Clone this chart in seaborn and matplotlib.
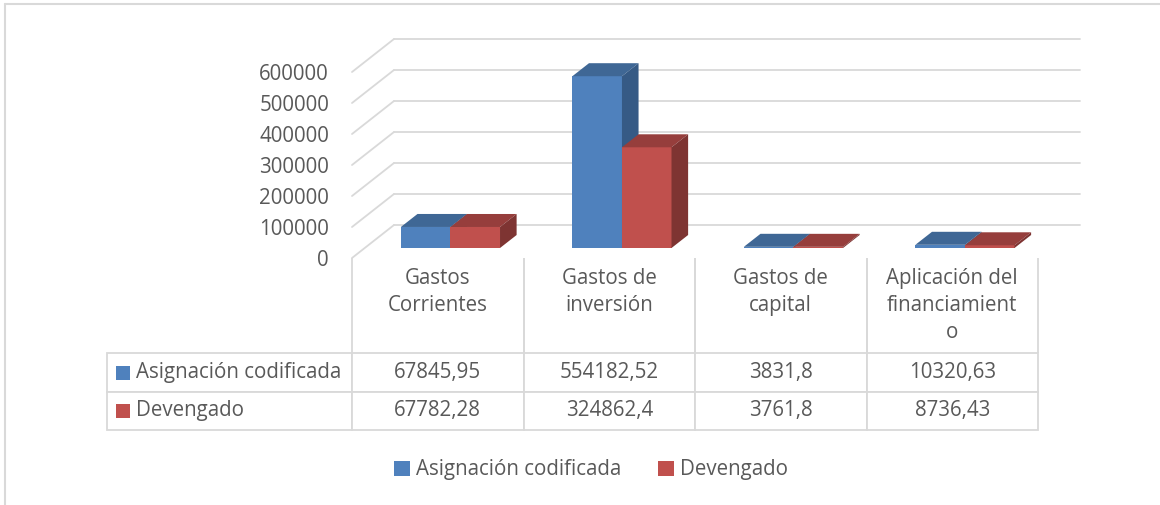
import numpy as np
import pandas as pd
import matplotlib.pyplot as plt
import seaborn as sns
from matplotlib.patches import Polygon, Rectangle
from matplotlib.lines import Line2D

# data
categories = ["Gastos Corrientes", "Gastos de inversión", "Gastos de capital",
              "Aplicación del financiamiento"]
header_labels = ["Gastos\nCorrientes\n ", "Gastos de\ninversión\n ",
                 "Gastos de\ncapital\n ", "Aplicación del\nfinanciamient\no"]
series = ["Asignación codificada", "Devengado"]
asignacion = [67845.95, 554182.52, 3831.8, 10320.63]
devengado = [67782.28, 324862.4, 3761.8, 8736.43]
yticks = [0, 100000, 200000, 300000, 400000, 500000, 600000]

BLUE, RED = "#4F81BD", "#C0504D"
BLUE_TOP, BLUE_SIDE = "#3F6795", "#365A85"
RED_TOP, RED_SIDE = "#963E3C", "#7E3432"
GRID = "#D9D9D9"
TXT = "#595959"
FS = 14.8

W, H = 1160, 505
AX_W, AX_H = 686, 186
sns.set_theme(style="white")
plt.rcParams["font.family"] = ["Open Sans", "DejaVu Sans"]

fig = plt.figure(figsize=(W / 100, H / 100), dpi=100)
# axes = the front plane of the 3D box (pixels -> figure fractions)
ax = fig.add_axes([352 / W, 1 - 258 / H, AX_W / W, AX_H / H])

df = pd.DataFrame({
    "categoria": categories * 2,
    "serie": [series[0]] * 4 + [series[1]] * 4,
    "valor": asignacion + devengado,
})
sns.barplot(data=df, x="categoria", y="valor", hue="serie", palette=[BLUE, RED],
            width=0.578, gap=0, saturation=1, legend=False, ax=ax)

ax.set_xlim(-0.5, 3.5)
ax.set_ylim(0, 600000)
ax.set_xticks([])
ax.set_xlabel("")
ax.set_ylabel("")
ax.set_yticks(yticks)
ax.set_yticklabels([str(t) for t in yticks])
ax.tick_params(axis="y", length=0, pad=16.5, labelcolor=TXT, labelsize=FS)
for s in ax.spines.values():
    s.set_visible(False)
ax.patch.set_alpha(0)

# pixel -> data conversions
px_x = 4 / AX_W
px_y = 600000 / AX_H
back_dx, back_dy = 42 * px_x, 33 * px_y      # back wall offset
plane_dx, plane_dy = 12.7 * px_x, 10 * px_y  # bar plane offset
depth_dx, depth_dy = 16.6 * px_x, 13 * px_y  # bar depth

# back wall gridlines and side wall diagonals
for t in yticks:
    ax.add_line(Line2D([-0.5 + back_dx, 3.5 + back_dx], [t + back_dy] * 2,
                       color=GRID, lw=1.3, clip_on=False, zorder=0))
    ax.add_line(Line2D([-0.5, -0.5 + back_dx], [t, t + back_dy],
                       color=GRID, lw=1.3, clip_on=False, zorder=0))

# turn flat bars into 3D boxes
bars = sorted(ax.patches, key=lambda p: p.get_x())
z = 2
for p in bars:
    x0 = p.get_x() + plane_dx
    w, h = p.get_width(), p.get_height()
    y0 = plane_dy
    is_blue = np.allclose(p.get_facecolor()[:3], plt.matplotlib.colors.to_rgb(BLUE))
    top_c, side_c = (BLUE_TOP, BLUE_SIDE) if is_blue else (RED_TOP, RED_SIDE)
    p.set_x(x0)
    p.set_y(y0)
    p.set_linewidth(0)
    p.set_clip_on(False)
    p.set_zorder(z)
    top = [(x0, y0 + h), (x0 + w, y0 + h), (x0 + w + depth_dx, y0 + h + depth_dy),
           (x0 + depth_dx, y0 + h + depth_dy)]
    side = [(x0 + w, y0), (x0 + w, y0 + h), (x0 + w + depth_dx, y0 + h + depth_dy),
            (x0 + w + depth_dx, y0 + depth_dy)]
    ax.add_patch(Polygon(top, closed=True, facecolor=top_c, lw=0, clip_on=False, zorder=z + 0.1))
    ax.add_patch(Polygon(side, closed=True, facecolor=side_c, lw=0, clip_on=False, zorder=z + 0.2))
    z += 1

# data table below the chart; first column holds the series names
cell_text = [[series[0]] + [str(v).replace(".", ",") for v in asignacion],
             [series[1]] + [str(v).replace(".", ",") for v in devengado]]
lab_w, col_w = 245 / AX_W, 171.5 / AX_W
head_h, row_h = 95 / AX_H, 38.5 / AX_H
tbl = ax.table(cellText=cell_text, colLabels=[""] + header_labels, cellLoc="center",
               bbox=[-lab_w, -(head_h + 2 * row_h), lab_w + 4 * col_w, head_h + 2 * row_h])
tbl.auto_set_font_size(False)
tbl.set_fontsize(FS)
for (r, c), cell in tbl.get_celld().items():
    cell.set_edgecolor(GRID)
    cell.set_linewidth(1.3)
    cell.get_text().set_color(TXT)
    cell.set_height(head_h if r == 0 else row_h)
    cell.set_width(lab_w if c == 0 else col_w)
    if r == 0:
        cell.visible_edges = "" if c == 0 else "LR"
        cell.get_text().set_linespacing(1.4)
    if c == 0 and r > 0:
        cell._loc = "left"
        cell.get_text().set_horizontalalignment("left")
        cell.PAD = 29 / 245

# coloured squares in the row labels
for yc, col in [(372.5, BLUE), (411, RED)]:
    fig.add_artist(Rectangle((116 / W, 1 - (yc + 7) / H), 14 / W, 14 / H,
                             facecolor=col, lw=0, transform=fig.transFigure))

# legend
handles = [Rectangle((0, 0), 1, 1, facecolor=BLUE, lw=0),
           Rectangle((0, 0), 1, 1, facecolor=RED, lw=0)]
leg = fig.legend(handles, series, loc="center", bbox_to_anchor=(591 / W, 1 - 470 / H),
                 ncol=2, frameon=False, fontsize=FS, handlelength=0.75, handleheight=0.75,
                 handletextpad=0.3, columnspacing=1.8)
for t in leg.get_texts():
    t.set_color(TXT)

# chart area border
fig.add_artist(Line2D([5 / W, 5 / W], [0, 1 - 4 / H], color=GRID, lw=1.5,
                      transform=fig.transFigure))
fig.add_artist(Line2D([5 / W, 1], [1 - 4 / H, 1 - 4 / H], color=GRID, lw=1.5,
                      transform=fig.transFigure))

fig.savefig("out.png", dpi=100)
